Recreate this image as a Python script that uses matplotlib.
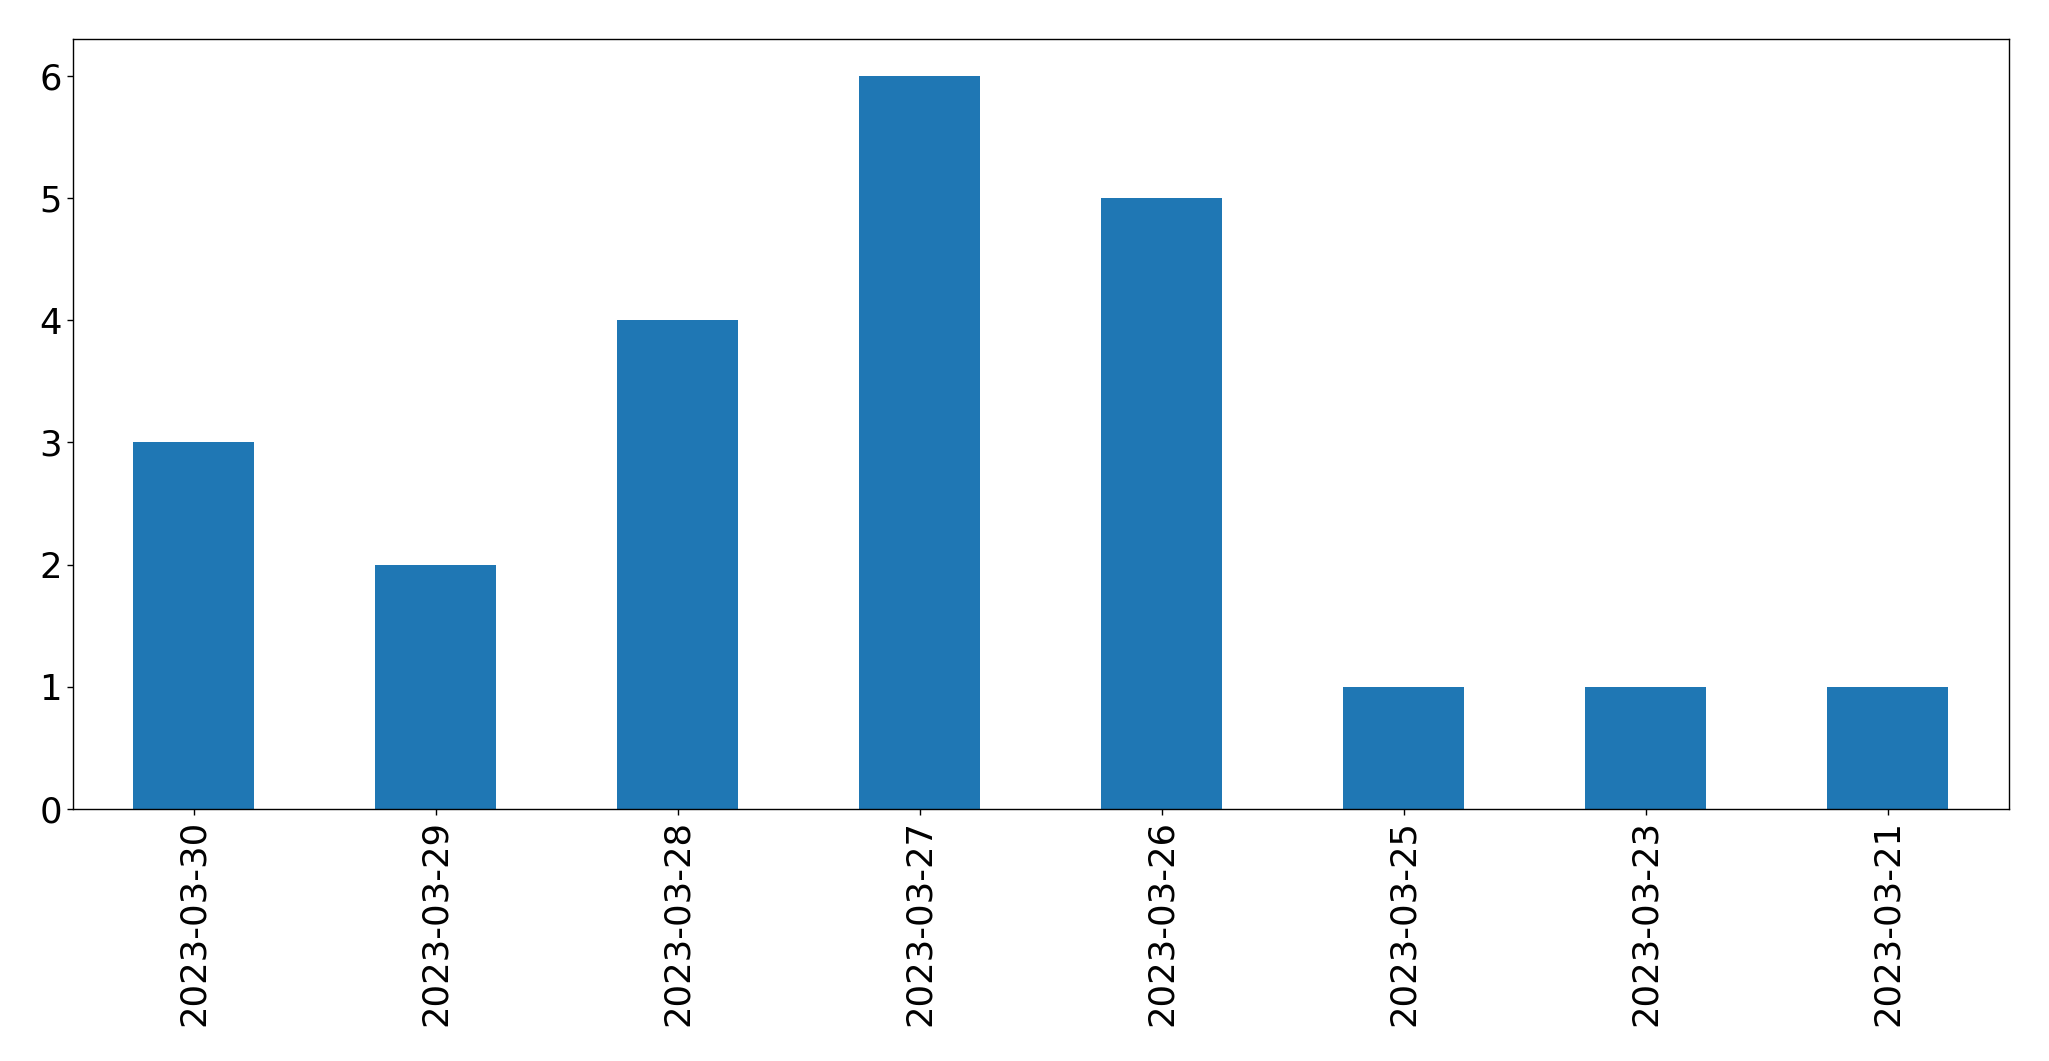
import numpy as np
import pandas as pd
import matplotlib
matplotlib.use('Agg')
import matplotlib.pyplot as plt

dates = ['2023-03-30', '2023-03-29', '2023-03-28', '2023-03-27',
         '2023-03-26', '2023-03-25', '2023-03-23', '2023-03-21']
counts = [3, 2, 4, 6, 5, 1, 1, 1]

s = pd.Series(counts, index=dates)

fig = plt.figure(figsize=(20.49, 10.61), dpi=100)
ax = fig.add_axes([72.7 / 2049, 1 - 809 / 1061, (2009 - 72.7) / 2049, (809 - 39) / 1061])
s.plot(kind='bar', ax=ax, color='#1f77b4', width=0.5, fontsize=25.5)
ax.set_xlim(-0.5, 7.5)
ax.set_ylim(0, 6.3)
ax.tick_params(length=4.3, width=1.0, labelsize=25.5)
for sp in ax.spines.values():
    sp.set_linewidth(1.0)

fig.savefig('out.png', dpi=100)
